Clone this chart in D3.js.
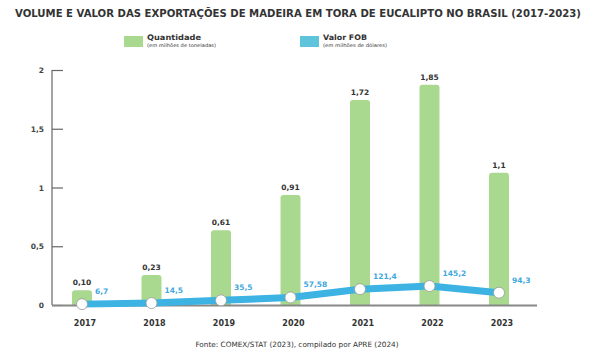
<!DOCTYPE html>
<html><head><meta charset="utf-8">
<script src="https://cdn.jsdelivr.net/npm/d3@7"></script>
<style>body{margin:0;background:#fff;} svg{display:block;}</style>
</head><body>
<svg id="c" width="595" height="360"></svg>
<script>
const years = ["2017","2018","2019","2020","2021","2022","2023"];
const quantidade = [0.10, 0.23, 0.61, 0.91, 1.72, 1.85, 1.1];
const quantidadeLabels = ["0,10","0,23","0,61","0,91","1,72","1,85","1,1"];
const valorFOB = [6.7, 14.5, 35.5, 57.58, 121.4, 145.2, 94.3];
const valorLabels = ["6,7","14,5","35,5","57,58","121,4","145,2","94,3"];
const yTicks = [0, 0.5, 1, 1.5, 2];
const yTickLabels = ["0","0,5","1","1,5","2"];

const svg = d3.select("#c");
const font = "'DejaVu Sans', sans-serif";
const green = "#a9d98f", blue = "#3cb3e2", blueText = "#3fa8de", dark = "#333";

const x = d3.scalePoint().domain(years).range([82, 499]);
const y = d3.scaleLinear().domain([0, 2]).range([305, 70]);
const y2 = d3.scaleLinear().domain([0, 1800]).range([305, 70]);

// title
svg.append("text").attr("x", 15).attr("y", 16.5)
  .attr("font-family", font).attr("font-weight", "bold").attr("font-size", 10)
  .attr("fill", dark).attr("textLength", 566).attr("lengthAdjust", "spacingAndGlyphs")
  .text("VOLUME E VALOR DAS EXPORTAÇÕES DE MADEIRA EM TORA DE EUCALIPTO NO BRASIL (2017-2023)");

// legend
const leg = [
  {x: 124, c: green, t: "Quantidade", s: "(em milhões de toneladas)", tl: 54, sl: 69},
  {x: 300, c: "#5ec4dc", t: "Valor FOB", s: "(em milhões de dólares)", tl: 44, sl: 64}
];
leg.forEach(l => {
  svg.append("rect").attr("x", l.x).attr("y", 36).attr("width", 19).attr("height", 11).attr("fill", l.c);
  svg.append("text").attr("x", l.x + 23).attr("y", 40).attr("font-family", font)
    .attr("font-weight", "bold").attr("font-size", 7.6).attr("fill", dark)
    .attr("textLength", l.tl).attr("lengthAdjust", "spacingAndGlyphs").text(l.t);
  svg.append("text").attr("x", l.x + 23).attr("y", 46.5).attr("font-family", font)
    .attr("font-size", 4.8).attr("fill", dark)
    .attr("textLength", l.sl).attr("lengthAdjust", "spacingAndGlyphs").text(l.s);
});

// y axis
const yAxis = d3.axisRight(y).tickValues(yTicks).tickSize(11).tickFormat("");
const ga = svg.append("g").attr("transform", "translate(52,0)").call(yAxis);
ga.select(".domain").attr("stroke", "#666").attr("stroke-width", 1.2).attr("d", "M0,70V305");
ga.selectAll(".tick line").attr("stroke", "#666").attr("stroke-width", 1.2);
svg.selectAll(".ylab").data(yTicks).join("text").attr("class", "ylab")
  .attr("x", 44).attr("y", d => y(d) + 3).attr("text-anchor", "end")
  .attr("font-family", font).attr("font-weight", "bold").attr("font-size", 7.5)
  .attr("fill", "#444").text((d, i) => yTickLabels[i]);

// bars
const bw = 20;
svg.selectAll(".bar").data(years).join("path").attr("class", "bar")
  .attr("fill", green)
  .attr("d", (d, i) => {
    const x0 = x(d) - bw / 2, top = y(quantidade[i]) - 3, bot = y(0), r = 3;
    return `M${x0},${bot}V${top + r}Q${x0},${top} ${x0 + r},${top}H${x0 + bw - r}Q${x0 + bw},${top} ${x0 + bw},${top + r}V${bot}Z`;
  });

// x axis line
svg.append("line").attr("x1", 52).attr("x2", 537).attr("y1", 305.5).attr("y2", 305.5)
  .attr("stroke", "#888").attr("stroke-width", 2);

// bar labels
svg.selectAll(".blab").data(years).join("text").attr("class", "blab")
  .attr("x", d => x(d)).attr("y", (d, i) => y(quantidade[i]) - 8)
  .attr("text-anchor", "middle").attr("font-family", font).attr("font-weight", "bold")
  .attr("font-size", 7.5).attr("fill", dark).text((d, i) => quantidadeLabels[i]);

// line
const line = d3.line().x((d, i) => x(years[i])).y(d => y2(d)).curve(d3.curveLinear);
svg.append("path").datum(valorFOB).attr("d", line).attr("fill", "none")
  .attr("stroke", blue).attr("stroke-width", 7).attr("stroke-linejoin", "round");
svg.selectAll(".pt").data(valorFOB).join("circle").attr("class", "pt")
  .attr("cx", (d, i) => x(years[i])).attr("cy", d => y2(d)).attr("r", 5.5)
  .attr("fill", "#fff").attr("stroke", "#999").attr("stroke-width", 0.8);
svg.selectAll(".vlab").data(valorFOB).join("text").attr("class", "vlab")
  .attr("x", (d, i) => x(years[i]) + 13).attr("y", d => y2(d) - 10)
  .attr("font-family", font).attr("font-weight", "bold").attr("font-size", 7.5)
  .attr("fill", blueText).text((d, i) => valorLabels[i]);

// year labels
svg.selectAll(".xlab").data(years).join("text").attr("class", "xlab")
  .attr("x", d => x(d) + 3).attr("y", 326).attr("text-anchor", "middle")
  .attr("font-family", font).attr("font-weight", "bold").attr("font-size", 8)
  .attr("fill", dark).text(d => d);

// source
svg.append("text").attr("x", 297).attr("y", 347).attr("text-anchor", "middle")
  .attr("font-family", font).attr("font-size", 7.3).attr("fill", dark)
  .text("Fonte: COMEX/STAT (2023), compilado por APRE (2024)");
</script>
</body></html>
